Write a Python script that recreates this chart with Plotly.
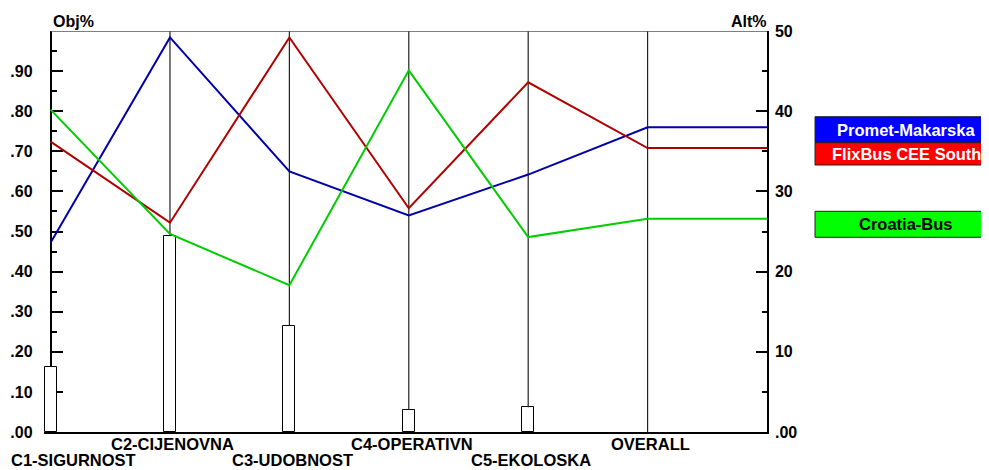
import plotly.graph_objects as go

# ---------------- data ----------------
categories = ["C1-SIGURNOST", "C2-CIJENOVNA", "C3-UDOBNOST", "C4-OPERATIVN", "C5-EKOLOSKA", "OVERALL"]
criteria_weights = [0.163, 0.49, 0.265, 0.055, 0.062]          # Obj% (left axis), C1..C5
series_names = ["Promet-Makarska", "FlixBus CEE South", "Croatia-Bus"]
promet = [23.6, 49.2, 32.5, 27.0, 32.1, 38.0]                   # Alt% (right axis)
flixbus = [36.2, 26.1, 49.2, 27.9, 43.6, 35.4]
croatia = [40.2, 24.7, 18.3, 45.1, 24.3, 26.6]
left_tick_vals = [0.0, 0.1, 0.2, 0.3, 0.4, 0.5, 0.6, 0.7, 0.8, 0.9]
left_tick_text = [".00", ".10", ".20", ".30", ".40", ".50", ".60", ".70", ".80", ".90"]
right_tick_vals = [0, 10, 20, 30, 40, 50]
right_tick_text = [".00", "10", "20", "30", "40", "50"]

# ---------------- styles ----------------
FONT = "Liberation Sans"
FS = 16
FS_LBL = 16.5
line_colors = ["#0000A8", "#B00000", "#00CC00"]
legend_fill = ["#0000FF", "#FF0000", "#00FF00"]
legend_text_color = ["white", "white", "black"]

OFF = 8                      # page body margin
W, H = 989, 470 - OFF
X_LO = -0.055
n = len(categories)
X_HI = n
# page-pixel positions of the plot area
P_L0, P_R, P_T, P_B = 51, 767, 31, 432
STEP = (P_R - P_L0) / n
P_L = P_L0 + X_LO * STEP


def px_x(p):
    return (p - P_L) / (P_R - P_L)


def px_y(p):
    return (P_B - p) / (P_B - P_T)


fig = go.Figure()

# weight bars
fig.add_trace(go.Bar(x=list(range(len(criteria_weights))), y=criteria_weights, width=0.1,
                     marker=dict(color="white", line=dict(color="black", width=1)),
                     showlegend=False, yaxis="y"))

# vertical criterion lines (from bar top up to the frame)
vx, vy = [], []
for i in range(1, n):
    base = criteria_weights[i] if i < len(criteria_weights) else 0
    vx += [i, i, None]
    vy += [base, 1, None]
fig.add_trace(go.Scatter(x=vx, y=vy, mode="lines", line=dict(color="#222222", width=1.2),
                         hoverinfo="skip", showlegend=False, yaxis="y"))

# series lines (extend OVERALL to right axis)
for name, vals, col in zip(series_names, [promet, flixbus, croatia], line_colors):
    xs = list(range(n)) + [n]
    ys = list(vals) + [vals[-1]]
    fig.add_trace(go.Scatter(x=xs, y=ys, mode="lines", name=name,
                             line=dict(color=col, width=2), showlegend=False, yaxis="y2"))

shapes = []
annotations = []

# top frame line
shapes.append(dict(type="line", xref="x", yref="y", x0=0, x1=n, y0=1, y1=1,
                   line=dict(color="#555555", width=1.5), layer="above"))

# legend boxes
leg_boxes = [(116.7, 142.7), (142.7, 165.0), (211.3, 237.3)]
for (y0, y1), fill, tcol, name in zip(leg_boxes, legend_fill, legend_text_color, series_names):
    shapes.append(dict(type="rect", xref="paper", yref="paper",
                       x0=px_x(815), x1=px_x(1010), y0=px_y(y1), y1=px_y(y0),
                       fillcolor=fill, line=dict(color="#222222", width=1)))
    annotations.append(dict(xref="paper", yref="paper", x=px_x(906), y=px_y((y0 + y1) / 2),
                            text=name, showarrow=False, xanchor="center", yanchor="middle",
                            font=dict(family=FONT, size=FS_LBL, color=tcol, weight="bold")))

# axis titles
annotations.append(dict(xref="paper", yref="paper", x=px_x(51), y=px_y(21), text="Obj%",
                        showarrow=False, xanchor="left", yanchor="middle",
                        font=dict(family=FONT, size=FS, color="black", weight="bold")))
annotations.append(dict(xref="paper", yref="paper", x=px_x(769), y=px_y(21), text="Alt%",
                        showarrow=False, xanchor="right", yanchor="middle",
                        font=dict(family=FONT, size=FS, color="black", weight="bold")))

# category labels (two staggered rows)
for i, cat in enumerate(categories):
    row_y = 460 if i % 2 == 0 else 444
    if i == 0:
        annotations.append(dict(xref="paper", yref="paper", x=px_x(73.5), y=px_y(row_y), text=cat,
                                showarrow=False, xanchor="center", yanchor="middle",
                                font=dict(family=FONT, size=FS_LBL, color="black", weight="bold")))
    else:
        annotations.append(dict(xref="x", yref="paper", x=i, y=px_y(row_y), text=cat,
                                xshift=3, showarrow=False, xanchor="center", yanchor="middle",
                                font=dict(family=FONT, size=FS_LBL, color="black", weight="bold")))

fig.update_layout(
    width=W, height=H,
    margin=dict(l=P_L - OFF, r=W - (P_R - OFF), t=P_T - OFF, b=H - (P_B - OFF), pad=0,
                autoexpand=False),
    paper_bgcolor="white", plot_bgcolor="white",
    showlegend=False,
    bargap=0,
    xaxis=dict(range=[X_LO, X_HI], showgrid=False, zeroline=False, showticklabels=False,
               automargin=False,
               ticks="", showline=True, linecolor="black", linewidth=1.5, fixedrange=True),
    yaxis=dict(range=[0, 1], anchor="free", position=(0 - X_LO) / (X_HI - X_LO),
               automargin=False, layer="below traces",
               showgrid=False, zeroline=False, showline=True, linecolor="black", linewidth=1.5,
               tickmode="array", tickvals=left_tick_vals, ticktext=left_tick_text,
               ticks="inside", ticklen=12, tickwidth=1.5, tickcolor="black",
               minor=dict(tickmode="array", tickvals=[v + 0.05 for v in left_tick_vals],
                          ticks="inside", ticklen=6, tickwidth=1.5, tickcolor="black"),
               ticklabelstandoff=14,
               tickfont=dict(family=FONT, size=FS, color="black", weight="bold")),
    yaxis2=dict(range=[0, 50], overlaying="y", side="right", anchor="x",
                automargin=False,
                showgrid=False, zeroline=False, showline=True, linecolor="black", linewidth=1.5,
                tickmode="array", tickvals=right_tick_vals, ticktext=right_tick_text,
                ticks="inside", ticklen=11, tickwidth=1.5, tickcolor="black",
                minor=dict(tickmode="array", tickvals=[v + 5 for v in right_tick_vals[:-1]],
                           ticks="inside", ticklen=5, tickwidth=1.5, tickcolor="black"),
                ticklabelstandoff=3,
                tickfont=dict(family=FONT, size=FS, color="black", weight="bold")),
    shapes=shapes,
    annotations=annotations,
)

fig.write_html("out.html")
